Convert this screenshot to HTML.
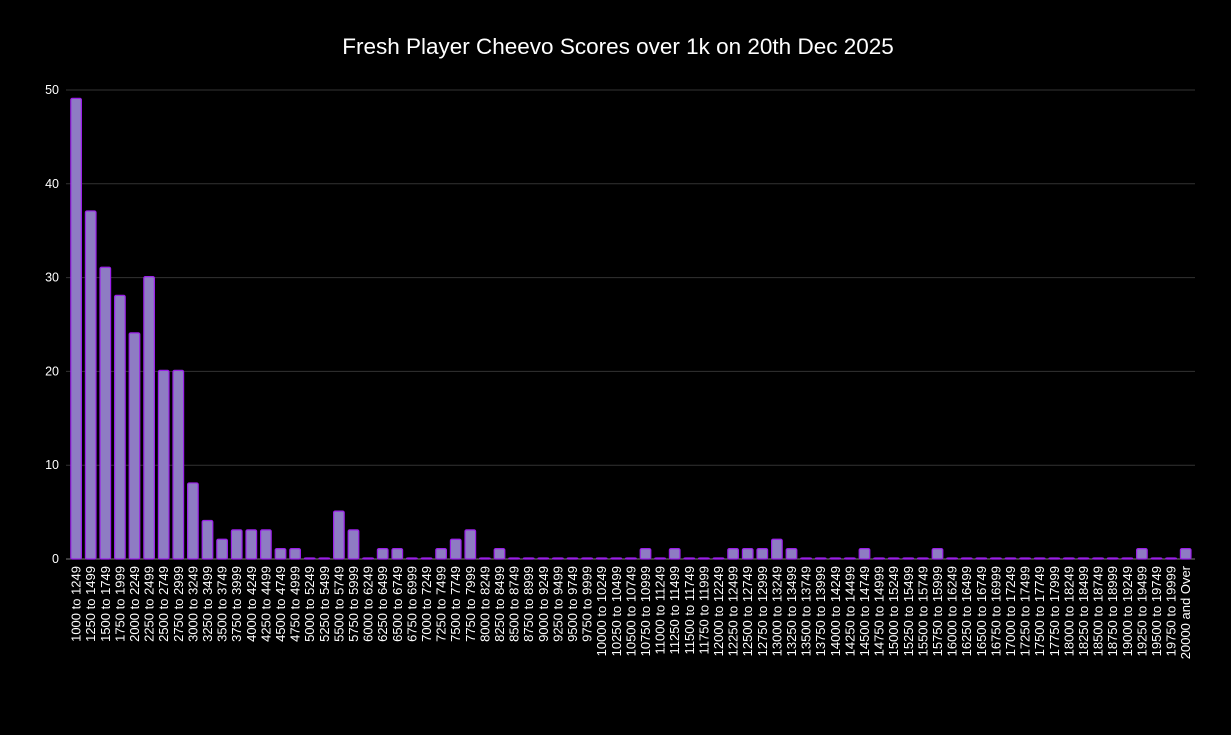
<!DOCTYPE html>
<html><head><meta charset="utf-8"><style>
html,body{margin:0;padding:0;background:#000;}
svg{display:block;font-family:"Liberation Sans",Roboto,sans-serif;}
</style></head><body>
<svg id="c" width="1231" height="735" xmlns="http://www.w3.org/2000/svg">
<rect width="1231" height="735" fill="#000"/>
<text x="618" y="54" fill="#fff" font-size="22.5" text-anchor="middle">Fresh Player Cheevo Scores over 1k on 20th Dec 2025</text>
<g id="g"></g>
</svg>
<script>
var vals=[49,37,31,28,24,30,20,20,8,4,2,3,3,3,1,1,0,0,5,3,0,1,1,0,0,1,2,3,0,1,0,0,0,0,0,0,0,0,0,1,0,1,0,0,0,1,1,1,2,1,0,0,0,0,1,0,0,0,0,1,0,0,0,0,0,0,0,0,0,0,0,0,0,1,0,0,1];
var g=document.getElementById('g'),s='';
var y0=559,k=9.38,x0=68.8,w=14.6;
for(var t=0;t<=50;t+=10){var y=y0-t*k;
 s+='<line x1="66" x2="1195" y1="'+y+'" y2="'+y+'" stroke="'+(t?'#333':'#777')+'" stroke-width="1"/>';
 s+='<text x="59" y="'+(y+4)+'" fill="#fff" font-size="12.5" text-anchor="end">'+t+'</text>';}
for(var i=0;i<vals.length;i++){
 var cx=x0+w*i+w/2,h=vals[i]*k;
 s+='<rect x="'+(cx-5.3)+'" y="'+(y0-h-1)+'" width="10.6" height="'+(h+1)+'" rx="1.5" fill="#8e7cc3" stroke="#9b1fe8" stroke-width="1.2"/>';
 var lab=i<76?((1000+250*i)+' to '+(1249+250*i)):'20000 and Over';
 s+='<text transform="translate('+(cx+4.5)+',566) rotate(-90)" fill="#fff" font-size="13" text-anchor="end">'+lab+'</text>';}
g.innerHTML=s;
</script>
</body></html>
